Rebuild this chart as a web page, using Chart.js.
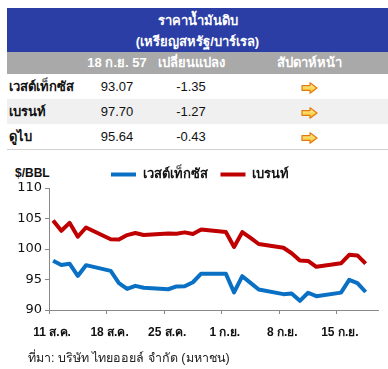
<!DOCTYPE html>
<html>
<head>
<meta charset="utf-8">
<script src="https://cdn.jsdelivr.net/npm/chart.js@4"></script>
<style>
  body { margin: 0; width: 388px; height: 369px; background: #fff; position: relative; overflow: hidden;
         font-family: "Liberation Sans", Arial, sans-serif; }
  #tbl { position: absolute; left: 7px; top: 8px; width: 381px; border-bottom: 1px solid #d0d0d0; }
  #head { height: 44px; background: #2b3ea6; color: #fff; font-weight: bold; font-size: 13px;
          text-align: center; line-height: 21px; padding-top: 2px; box-sizing: border-box; }
  .row { position: relative; height: 25px; font-size: 13px; color: #111; }
  .row span { position: absolute; top: 0; line-height: 25px; text-align: center; }
  #sub { height: 22px; background: #a9a9a9; color: #fff; font-weight: bold; }
  #sub span { line-height: 22px; }
  .c1 { left: 2px; text-align: left !important; font-weight: bold; }
  .c2 { left: 80px; width: 60px; }
  .c3 { left: 149px; width: 70px; }
  .c4 { left: 262px; width: 80px; }
  .c4 svg { vertical-align: middle; }
  #unit { position: absolute; left: 15px; top: 166px; font-size: 12px; font-weight: bold; color: #111; }
  #src { position: absolute; left: 28px; top: 348px; font-size: 12.5px; color: #222; }
  #chart { position: absolute; left: 0; top: 150px; }
</style>
</head>
<body>
<div id="tbl">
  <div id="head">ราคาน้ำมันดิบ<br>(เหรียญสหรัฐ/บาร์เรล)</div>
  <div class="row" id="sub"><span class="c2">18 ก.ย. 57</span><span class="c3">เปลี่ยนแปลง</span><span class="c4">สัปดาห์หน้า</span></div>
  <div id="rows"></div>
</div>
<div id="unit">$/BBL</div>
<canvas id="chart" width="388" height="200"></canvas>
<div id="src">ที่มา: บริษัท ไทยออยล์ จำกัด (มหาชน)</div>

<script>
// ตาราง
const oilNames = ['เวสต์เท็กซัส', 'เบรนท์', 'ดูไบ'];
const oilPrices = ['93.07', '97.70', '95.64'];
const oilChanges = ['-1.35', '-1.27', '-0.43'];

// กราฟ
const dates = [
  '2014-08-11', '2014-08-12', '2014-08-13', '2014-08-14', '2014-08-15',
  '2014-08-18', '2014-08-19', '2014-08-20', '2014-08-21', '2014-08-22',
  '2014-08-25', '2014-08-26', '2014-08-27', '2014-08-28', '2014-08-29',
  '2014-09-01', '2014-09-02', '2014-09-03', '2014-09-04', '2014-09-05',
  '2014-09-08', '2014-09-09', '2014-09-10', '2014-09-11', '2014-09-12',
  '2014-09-15', '2014-09-16', '2014-09-17', '2014-09-18'
];
const wti = [
  98.08, 97.37, 97.59, 95.58, 97.35,
  96.41, 94.40, 93.45, 93.96, 93.65,
  93.40, 93.86, 93.88, 94.55, 95.96,
  95.96, 92.88, 95.54, 94.45, 93.35,
  92.60, 92.70, 91.50, 92.83, 92.27,
  92.85, 94.95, 94.42, 92.95
];
const brent = [
  104.68, 102.99, 104.29, 102.01, 103.53,
  101.60, 101.56, 102.28, 102.62, 102.29,
  102.55, 102.49, 102.73, 102.46, 103.19,
  102.79, 100.34, 102.77, 101.83, 100.82,
  100.20, 99.30, 98.10, 98.05, 97.08,
  97.65, 99.05, 98.95, 97.60
];
const tickDates = ['2014-08-11', '2014-08-18', '2014-08-25', '2014-09-01', '2014-09-08', '2014-09-15'];
const tickLabels = ['11 ส.ค.', '18 ส.ค.', '25 ส.ค.', '1 ก.ย.', '8 ก.ย.', '15 ก.ย.'];

const arrowSvg = '<svg width="17" height="12" viewBox="0 0 17 12"><defs><linearGradient id="g" x1="0" y1="0" x2="0" y2="1">' +
  '<stop offset="0" stop-color="#fff3a8"/><stop offset="1" stop-color="#f6bf18"/></linearGradient></defs>' +
  '<path d="M1 3.6 H9 V0.8 L16 6 L9 11.2 V8.4 H1 Z" fill="url(#g)" stroke="#e27a10" stroke-width="1.2" stroke-linejoin="round"/></svg>';

let html = '';
oilNames.forEach((name, i) => {
  const bg = i === 1 ? '#f0f0f0' : '#fff';
  html += '<div class="row" style="background:' + bg + '"><span class="c1">' + name + '</span><span class="c2">' + oilPrices[i] +
    '</span><span class="c3">' + oilChanges[i] + '</span><span class="c4">' + arrowSvg + '</span></div>';
});
document.getElementById('rows').innerHTML = html;

const dayNo = d => (Date.parse(d) - Date.parse(dates[0])) / 86400000;
const toPoints = vals => vals.map((v, i) => ({ x: dayNo(dates[i]), y: v }));

// เลื่อนคำอธิบายไปทางขวาเล็กน้อย
const shiftLegend = {
  id: 'shiftLegend',
  afterLayout(chart) {
    chart.legend.left += 11;
    chart.legend.right += 11;
  }
};

new Chart(document.getElementById('chart').getContext('2d'), {
  type: 'line',
  data: {
    datasets: [
      { label: 'เวสต์เท็กซัส', data: toPoints(wti), borderColor: '#0a70c4', backgroundColor: '#0a70c4',
        borderWidth: 4, pointRadius: 0, tension: 0, borderJoinStyle: 'round' },
      { label: 'เบรนท์', data: toPoints(brent), borderColor: '#c00000', backgroundColor: '#c00000',
        borderWidth: 4, pointRadius: 0, tension: 0, borderJoinStyle: 'round' }
    ]
  },
  plugins: [shiftLegend],
  options: {
    responsive: false,
    animation: false,
    layout: { padding: { top: 5, left: 0, right: 10, bottom: 0 } },
    plugins: {
      tooltip: { enabled: false },
      legend: {
        position: 'top',
        maxHeight: 33,
        labels: {
          boxWidth: 25, boxHeight: 4, padding: 13, color: '#111',
          font: { size: 13, weight: 'bold', family: '"Liberation Sans", Arial, sans-serif' },
          generateLabels: chart => Chart.defaults.plugins.legend.labels.generateLabels(chart)
            .map(l => Object.assign(l, { lineWidth: 0 }))
        }
      }
    },
    scales: {
      x: {
        type: 'linear',
        min: -0.5,
        max: dayNo(dates[dates.length - 1]) + 1.5,
        afterBuildTicks: scale => { scale.ticks = tickDates.map(d => ({ value: dayNo(d) - 0.5 })); },
        afterFit: scale => { scale.height = 40; },
        grid: { drawOnChartArea: false, drawTicks: true, tickLength: 4, color: '#888' },
        border: { color: '#888' },
        ticks: {
          autoSkip: false, maxRotation: 0, padding: 11, labelOffset: 3, color: '#111',
          font: { size: 12, weight: 'bold', family: '"Liberation Sans", Arial, sans-serif' },
          callback: (v, i) => tickLabels[i]
        }
      },
      y: {
        min: 90,
        max: 110,
        afterFit: scale => { scale.width = 49; },
        grid: { drawOnChartArea: false, drawTicks: true, tickLength: 4, color: '#888' },
        border: { color: '#888' },
        ticks: {
          stepSize: 5, padding: 3, color: '#111',
          font: { size: 13, family: '"DejaVu Sans", sans-serif' }
        }
      }
    }
  }
});
</script>
</body>
</html>
